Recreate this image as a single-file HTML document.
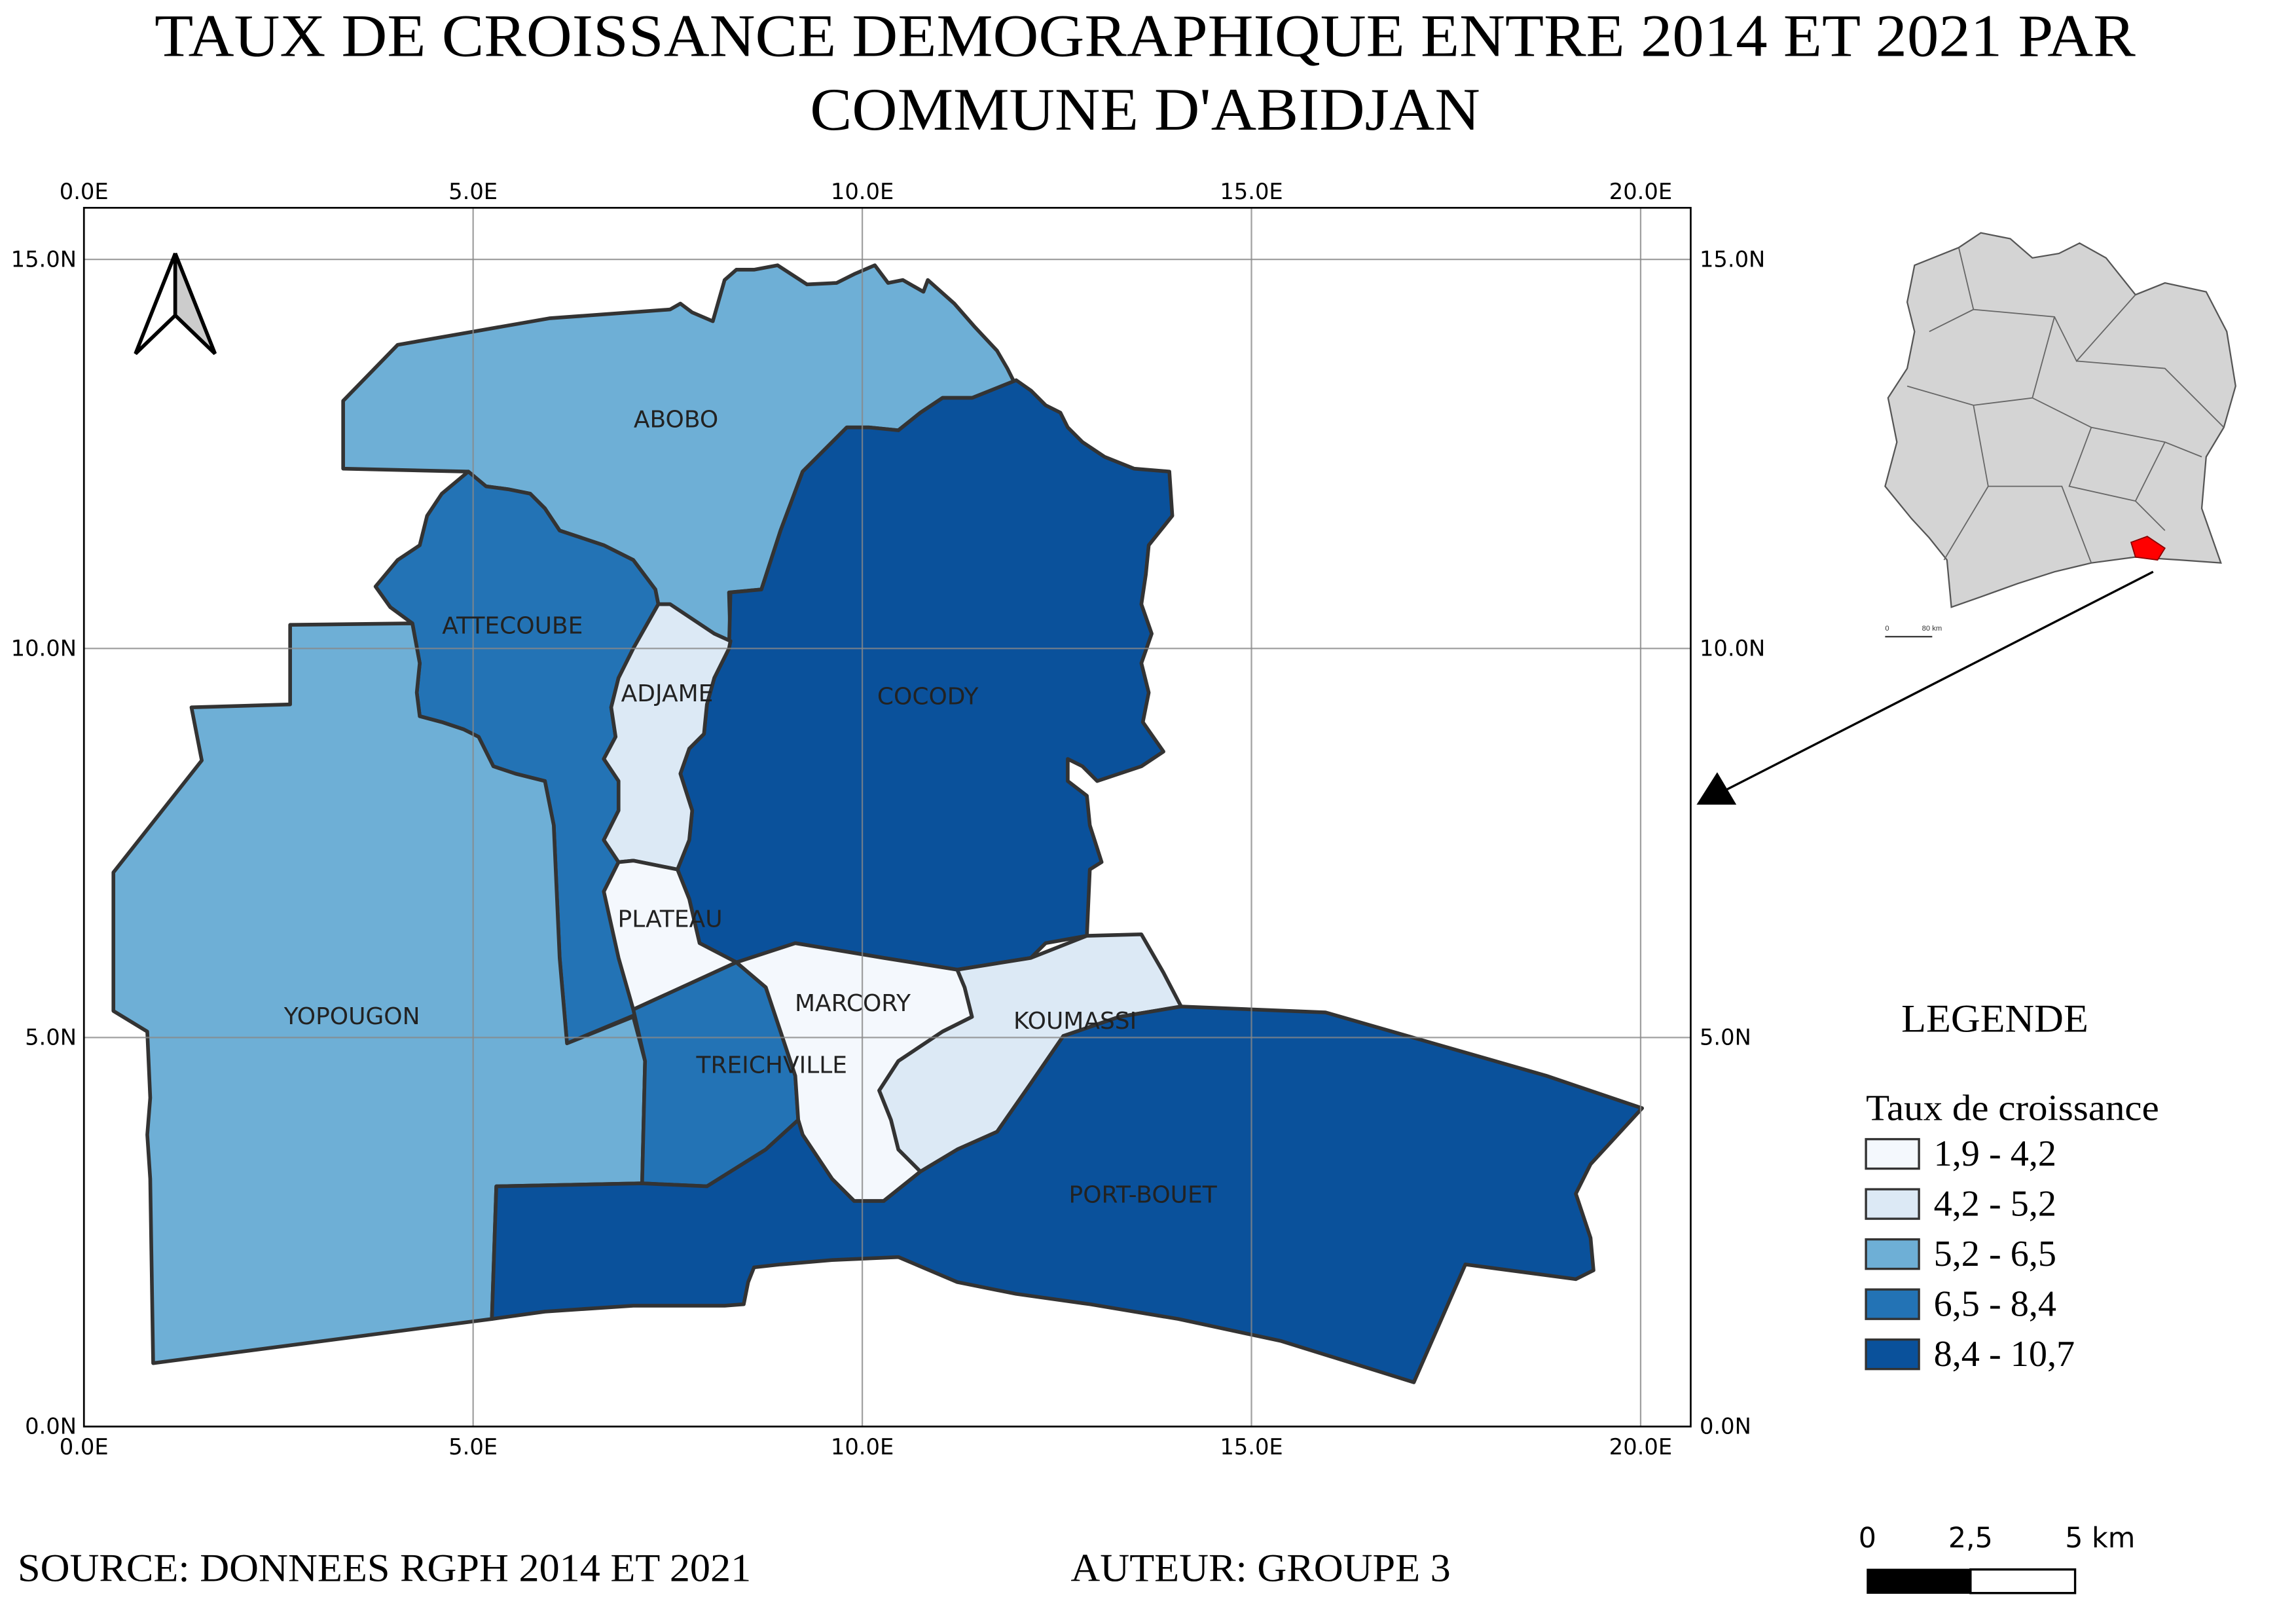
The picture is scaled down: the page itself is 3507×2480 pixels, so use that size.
<!DOCTYPE html>
<html><head><meta charset="utf-8"><style>
html,body{margin:0;padding:0;background:#fff;}
svg{display:block;}
</style></head><body>
<svg id="map" width="3507" height="2480" viewBox="0 0 1559 1102" preserveAspectRatio="none" xmlns="http://www.w3.org/2000/svg">
<rect width="1559" height="1102" fill="#fff"/>
<text x="105" y="38" font-family="Liberation Serif" font-size="41" textLength="1345" lengthAdjust="spacingAndGlyphs">TAUX DE CROISSANCE DEMOGRAPHIQUE ENTRE 2014 ET 2021 PAR</text>
<text x="550" y="88" font-family="Liberation Serif" font-size="41" textLength="455" lengthAdjust="spacingAndGlyphs">COMMUNE D'ABIDJAN</text>
<g id="communes"></g>
<g id="grid"></g>
<rect x="57" y="141" width="1091" height="827" fill="none" stroke="#000" stroke-width="1.2"/>
<g id="labels"></g>
<g>
<polygon points="119,172 92,240 119,214" fill="#fff" stroke="#000" stroke-width="2.5"/>
<polygon points="119,172 146,240 119,214" fill="#ccc" stroke="#000" stroke-width="2.5"/>
</g>
<g>
<path d="M1300,180 L1330,168 L1345,158 L1365,162 L1380,175 L1398,172 L1412,165 L1430,175 L1450,200 L1470,192 L1498,198 L1512,225 L1518,262 L1510,290 L1498,310 L1495,345 L1508,382 L1480,380 L1450,378 L1420,382 L1395,388 L1370,396 L1345,405 L1325,412 L1322,380 L1310,365 L1298,352 L1280,330 L1288,300 L1282,270 L1295,250 L1300,225 L1295,205 Z" fill="#d4d4d4" stroke="#555" stroke-width="1"/>
<path d="M1330,168 L1340,210 L1310,225 M1340,210 L1395,215 L1410,245 L1450,200 M1395,215 L1380,270 L1340,275 L1295,262 M1380,270 L1420,290 L1470,300 L1495,310 M1410,245 L1470,250 L1510,290 M1340,275 L1350,330 L1320,380 M1420,290 L1405,330 L1450,340 L1470,300 M1350,330 L1400,330 L1420,382 M1450,340 L1470,360" fill="none" stroke="#666" stroke-width="0.8"/>
<polygon points="1447,368 1458,364 1470,372 1465,380 1450,378" fill="#ff0000" stroke="#800" stroke-width="0.8"/>
<line x1="1280" y1="432" x2="1312" y2="432" stroke="#333" stroke-width="1"/>
<text x="1280" y="428" font-size="5" font-family="Liberation Sans" fill="#333">0</text>
<text x="1305" y="428" font-size="5" font-family="Liberation Sans" fill="#333">80 km</text>
</g>
<line x1="1462" y1="388" x2="1170" y2="537" stroke="#000" stroke-width="1.5"/>
<polygon points="1152,546 1166,524 1179,546" fill="#000"/>
<text x="1291" y="700" font-family="Liberation Serif" font-size="27" textLength="127" lengthAdjust="spacingAndGlyphs">LEGENDE</text>
<text x="1267" y="760" font-family="Liberation Serif" font-size="25" textLength="199" lengthAdjust="spacingAndGlyphs">Taux de croissance</text>
<g id="legend"></g>
<g>
<text x="1268" y="1050" font-family="DejaVu Sans" font-size="19" text-anchor="middle">0</text>
<text x="1338" y="1050" font-family="DejaVu Sans" font-size="19" text-anchor="middle">2,5</text>
<text x="1426" y="1050" font-family="DejaVu Sans" font-size="19" text-anchor="middle">5 km</text>
<rect x="1268" y="1065" width="70" height="16" fill="#000" stroke="#000"/>
<rect x="1338" y="1065" width="71" height="16" fill="#fff" stroke="#000" stroke-width="1.5"/>
</g>
<text x="12" y="1073" font-family="Liberation Serif" font-size="27" textLength="498" lengthAdjust="spacingAndGlyphs">SOURCE: DONNEES RGPH 2014 ET 2021</text>
<text x="727" y="1073" font-family="Liberation Serif" font-size="27" textLength="258" lengthAdjust="spacingAndGlyphs">AUTEUR: GROUPE 3</text>
</svg>
<script>
const classLabels=["1,9 - 4,2","4,2 - 5,2","5,2 - 6,5","6,5 - 8,4","8,4 - 10,7"];
const classColors=["#f4f8fd","#dce9f5","#6eafd6","#2373b5","#0a519b"];
const communeNames=["ABOBO","COCODY","ATTECOUBE","ADJAME","PLATEAU","YOPOUGON","TREICHVILLE","MARCORY","KOUMASSI","PORT-BOUET"];
const communeClass=[2,4,3,1,0,2,3,0,1,4];
const xTicks=[0,5,10,15,20];
const yTicks=[0,5,10,15];
const NS="http://www.w3.org/2000/svg";
const sx=v=>57+v*52.85, sy=v=>968-v*52.8;
const shapes={
ABOBO:"233,318 233,272 270,234 373,216 455,210 462,206 470,212 484,218 492,190 500,183 512,183 528,180 548,193 568,192 580,186 594,180 603,192 613,190 627,198 630,190 648,206 662,222 677,238 684,250 690,262 680,270 672,268 660,270 640,270 625,280 610,292 590,290 575,290 560,305 545,320 530,360 517,400 495,402 496,435 485,430 470,420 455,410 447,410 445,400 430,380 410,370 380,360 370,345 360,335 345,332 330,330 318,320",
COCODY:"575,290 590,290 610,292 625,280 640,270 660,270 680,262 690,258 700,265 710,275 720,280 725,290 735,300 750,310 770,318 794,320 796,350 788,360 780,370 778,390 775,410 782,430 775,450 780,470 776,490 790,510 775,520 760,525 745,530 735,520 725,515 725,530 738,540 740,560 748,585 740,590 738,635 710,640 700,650 650,658 600,650 540,640 520,650 500,653 475,640 468,610 460,590 468,570 470,550 462,525 468,508 478,498 480,478 485,460 495,440 496,402 517,400 530,360 545,320 560,305",
ATTECOUBE:"318,320 330,330 345,332 360,335 370,345 380,360 410,370 430,380 445,400 447,410 430,440 420,460 415,480 418,500 410,515 420,530 420,550 410,570 420,585 410,605 430,650 440,685 385,708 380,650 376,560 370,530 350,525 335,520 325,500 315,495 300,490 285,486 283,470 285,450 280,423 265,412 255,398 270,380 285,370 290,350 300,335",
ADJAME:"447,410 455,410 470,420 485,430 496,435 495,440 485,460 480,478 478,498 468,508 462,525 470,550 468,570 460,590 430,584 420,585 410,570 420,550 420,530 410,515 418,500 415,480 420,460 430,440",
PLATEAU:"420,585 430,584 460,590 468,610 475,640 500,653 430,685 420,650 410,605",
YOPOUGON:"197,424 280,423 285,450 283,470 285,486 300,490 315,495 325,500 335,520 350,525 370,530 376,560 380,650 385,708 430,690 438,720 436,803 337,805 334,895 104,925 102,800 100,770 102,745 100,700 77,686 77,592 137,516 130,480 197,478",
TREICHVILLE:"430,685 500,653 520,670 530,700 540,730 542,760 520,780 480,805 436,803 438,720",
MARCORY:"500,653 540,640 600,650 650,658 655,670 660,690 640,700 610,720 597,740 605,760 610,780 625,795 600,815 580,815 565,800 545,770 542,760 540,730 530,700 520,670",
KOUMASSI:"650,658 700,650 738,635 775,634 790,660 802,683 760,690 722,703 700,735 677,768 650,780 625,795 610,780 605,760 597,740 610,720 640,700 660,690 655,670",
"PORT-BOUET":"337,805 436,803 480,805 520,780 542,760 545,770 565,800 580,815 600,815 625,795 650,780 677,768 700,735 722,703 760,690 802,683 900,687 1050,730 1115,752 1080,790 1070,810 1080,840 1082,862 1070,868 995,858 960,938 870,910 800,895 740,885 690,878 650,870 610,853 565,855 530,858 512,860 508,870 505,885 492,886 430,886 370,890 334,895"};
const labelPos={ABOBO:[459,284],COCODY:[630,472],ATTECOUBE:[348,424],ADJAME:[453,470],PLATEAU:[455,623],YOPOUGON:[239,689],TREICHVILLE:[524,722],MARCORY:[579,680],KOUMASSI:[730,692],"PORT-BOUET":[776,810]};
const g=document.getElementById('communes'), lg=document.getElementById('labels');
communeNames.forEach((n,i)=>{
 const p=document.createElementNS(NS,'polygon');
 p.setAttribute('points',shapes[n]);
 p.setAttribute('fill',classColors[communeClass[i]]);
 p.setAttribute('stroke','#333');p.setAttribute('stroke-width','2.5');p.setAttribute('stroke-linejoin','round');
 
 
 g.appendChild(p);
 const t=document.createElementNS(NS,'text');
 t.setAttribute('x',labelPos[n][0]);t.setAttribute('y',labelPos[n][1]+6);
 t.setAttribute('text-anchor','middle');t.setAttribute('font-family','DejaVu Sans');t.setAttribute('font-size','16');t.setAttribute('fill','#222');
 t.textContent=n;
 
 
 lg.appendChild(t);
});
const gr=document.getElementById('grid');
function mk(tag,attrs,txt){const e=document.createElementNS(NS,tag);for(const k in attrs)e.setAttribute(k,attrs[k]);if(txt)e.textContent=txt;gr.appendChild(e);return e;}
xTicks.forEach(v=>{
 const x=sx(v);
 const l=mk('line',{x1:x,x2:x,y1:141,y2:968,stroke:'#888','stroke-width':1,'stroke-opacity':0.8});
 
 
 const lab=v.toFixed(1)+'E';
 const a=mk('text',{x:x,y:135,'text-anchor':'middle','font-family':'DejaVu Sans','font-size':15},lab);
 
 
 const b=mk('text',{x:x,y:987,'text-anchor':'middle','font-family':'DejaVu Sans','font-size':15},lab);
 
 
});
yTicks.forEach(v=>{
 const y=sy(v);
 const l=mk('line',{x1:57,x2:1148,y1:y,y2:y,stroke:'#888','stroke-width':1,'stroke-opacity':0.8});
 
 
 const lab=v.toFixed(1)+'N';
 const a=mk('text',{x:52,y:y+5,'text-anchor':'end','font-family':'DejaVu Sans','font-size':15},lab);
 
 
 const b=mk('text',{x:1154,y:y+5,'text-anchor':'start','font-family':'DejaVu Sans','font-size':15},lab);
 
 
});
const leg=document.getElementById('legend');
classLabels.forEach((c,i)=>{
 const y=773+i*34;
 const r=document.createElementNS(NS,'rect');
 r.setAttribute('x',1267);r.setAttribute('y',y);r.setAttribute('width',36);r.setAttribute('height',20);
 r.setAttribute('fill',classColors[i]);r.setAttribute('stroke','#333');r.setAttribute('stroke-width','1.5');
 
 
 leg.appendChild(r);
 const t=document.createElementNS(NS,'text');
 t.setAttribute('x',1313);t.setAttribute('y',y+18);t.setAttribute('font-family','Liberation Serif');t.setAttribute('font-size','25');
 t.textContent=c;
 
 
 leg.appendChild(t);
});
</script>
</body></html>
